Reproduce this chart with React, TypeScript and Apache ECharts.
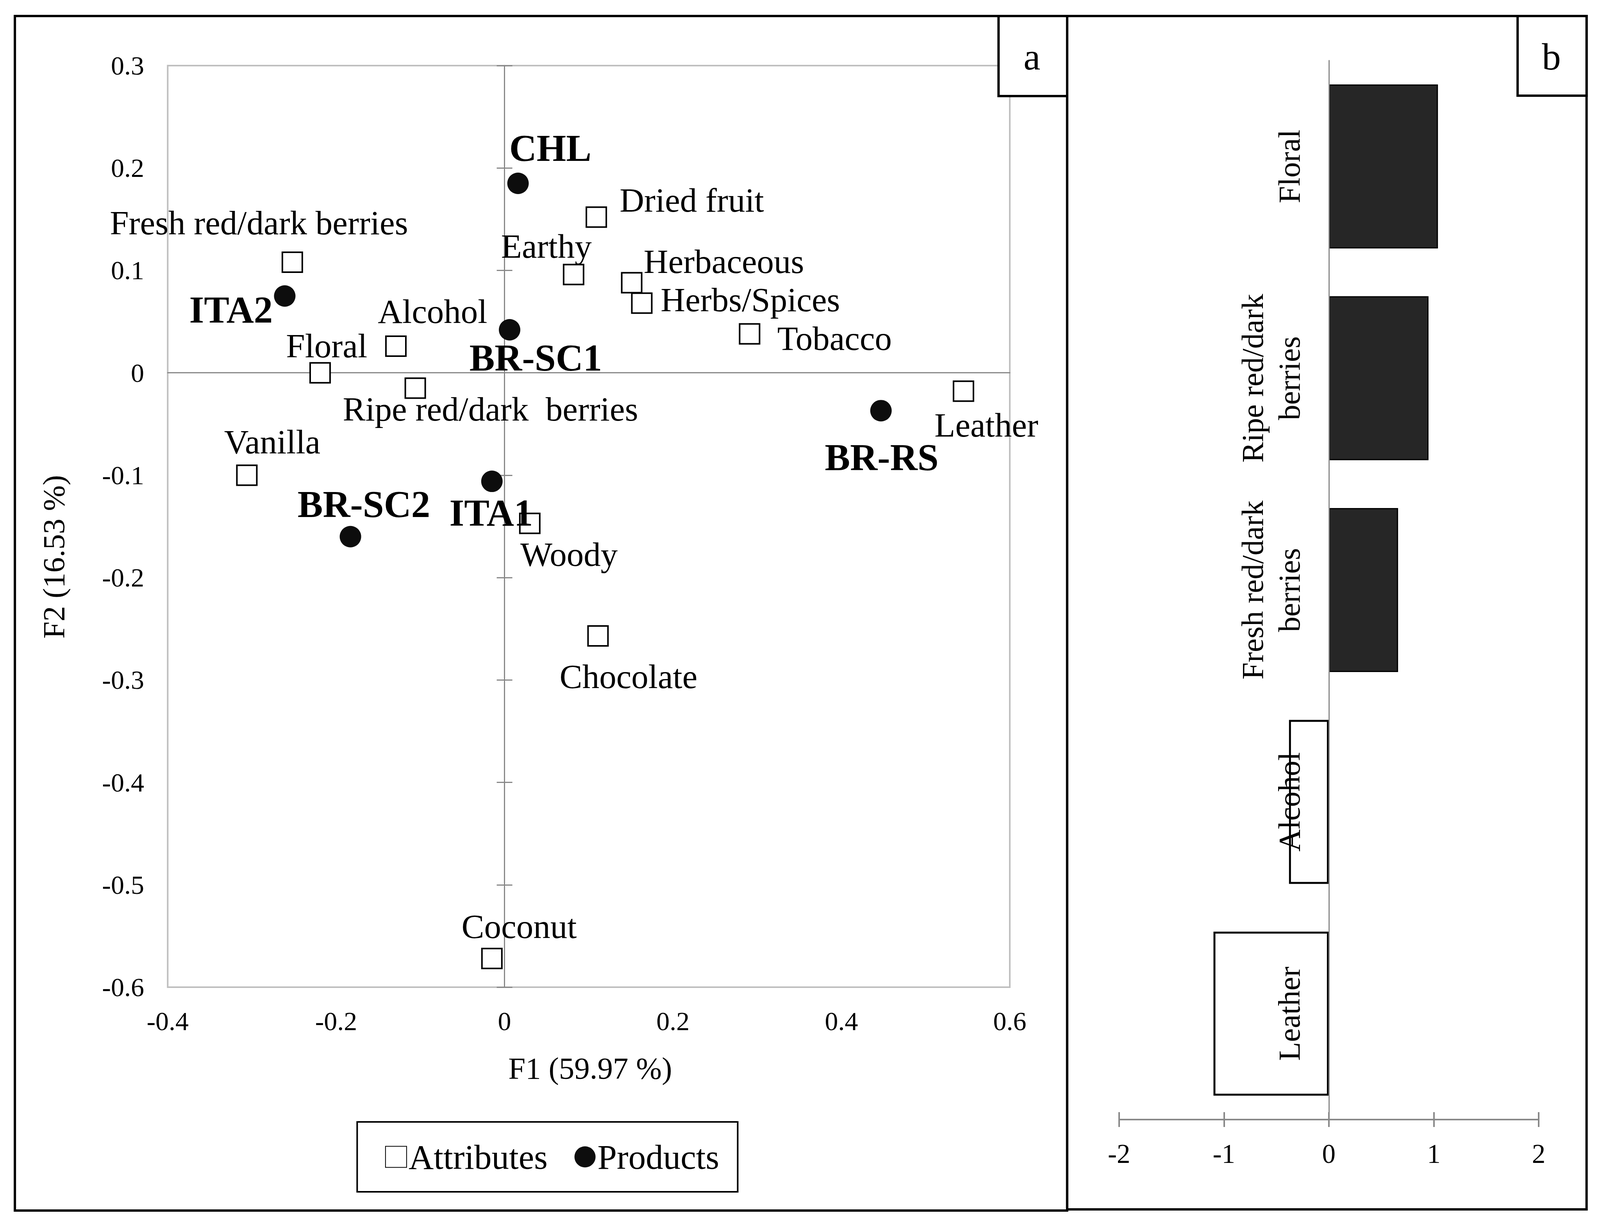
import React, { useEffect, useRef } from "react";
import * as echarts from "echarts";

// ---------- Panel a: PCA biplot ----------
const attributeNames = [
  "Fresh red/dark berries",
  "Floral",
  "Alcohol",
  "Ripe red/dark  berries",
  "Earthy",
  "Dried fruit",
  "Herbaceous",
  "Herbs/Spices",
  "Tobacco",
  "Leather",
  "Vanilla",
  "Woody",
  "Chocolate",
  "Coconut",
];
const attributeF1 = [-0.252, -0.219, -0.129, -0.106, 0.082, 0.109, 0.151, 0.163, 0.291, 0.545, -0.306, 0.03, 0.111, -0.015];
const attributeF2 = [0.108, 0.0, 0.026, -0.015, 0.096, 0.152, 0.088, 0.068, 0.038, -0.018, -0.1, -0.147, -0.257, -0.572];

const productNames = ["CHL", "ITA2", "BR-SC1", "BR-RS", "BR-SC2", "ITA1"];
const productF1 = [0.016, -0.261, 0.006, 0.447, -0.183, -0.015];
const productF2 = [0.185, 0.075, 0.042, -0.037, -0.16, -0.106];

const f1Ticks = [-0.4, -0.2, 0, 0.2, 0.4, 0.6];
const f2Ticks = [-0.6, -0.5, -0.4, -0.3, -0.2, -0.1, 0, 0.1, 0.2, 0.3];

// ---------- Panel b: bar chart ----------
const diffCategories = ["Floral", "Ripe red/dark\nberries", "Fresh red/dark\nberries", "Alcohol", "Leather"];
const diffValues = [1.04, 0.95, 0.66, -0.38, -1.1];
const diffTicks = [-2, -1, 0, 1, 2];

// label placement (pixel offsets from marker centre) — layout only
const attributeLabelOffsets: Record<string, number[]> = {
  "Fresh red/dark berries": [-92, -101],
  Floral: [18, -69],
  Alcohol: [101, -89],
  "Ripe red/dark  berries": [207, 53],
  Earthy: [-75, -72],
  "Dried fruit": [263, -44],
  Herbaceous: [254, -54],
  "Herbs/Spices": [299, -9],
  Tobacco: [234, 11],
  Leather: [63, 87],
  Vanilla: [70, -85],
  Woody: [108, 79],
  Chocolate: [84, 104],
  Coconut: [75, -82],
};
const productLabelOffsets: Record<string, number[]> = {
  CHL: [89, -90],
  ITA2: [-148, 35],
  "BR-SC1": [72, 72],
  "BR-RS": [2, 120],
  "BR-SC2": [37, -83],
  ITA1: [-2, 81],
};

const SERIF = "'Liberation Serif', 'Times New Roman', serif";
const fmt1 = (v: number) => String(Number(v.toFixed(1)));

const PAGE_W = 4096;
const PAGE_H = 3137;

export default function App() {
  const ref = useRef<HTMLDivElement>(null);

  useEffect(() => {
    if (!ref.current) return;
    const chart = echarts.init(ref.current, undefined, { renderer: "svg" });
    const sx = PAGE_W / 4408;
    const X = (v: number) => v * sx;
    const F = (v: number) => Math.round(v * 0.965);

    const attrData = attributeNames.map((n, i) => ({
      name: n,
      value: [attributeF1[i], attributeF2[i]],
      label: { offset: [X(attributeLabelOffsets[n][0]), attributeLabelOffsets[n][1]] },
    }));
    const prodData = productNames.map((n, i) => ({
      name: n,
      value: [productF1[i], productF2[i]],
      label: { offset: [X(productLabelOffsets[n][0]), productLabelOffsets[n][1]] },
    }));
    const barData = diffValues.map((v) => ({
      value: v,
      itemStyle:
        v >= 0
          ? { color: "#262626", borderColor: "#000", borderWidth: 3 }
          : { color: "#ffffff", borderColor: "#000", borderWidth: 5 },
    }));

    const grey = "#888888";
    const gridB = { left: X(3083), top: 155, width: X(1156), height: 2712 };

    const option: any = {
      animation: false,
      backgroundColor: "#ffffff",
      textStyle: { fontFamily: SERIF, color: "#000" },
      grid: [
        { left: X(462), top: 168, width: X(2320), height: 2360, show: true, borderColor: "#bfbfbf", borderWidth: 4, backgroundColor: "transparent" },
        gridB,
      ],
      xAxis: [
        {
          gridIndex: 0, type: "value", min: f1Ticks[0], max: f1Ticks[f1Ticks.length - 1], interval: 0.2,
          position: "bottom", axisLine: { show: false, onZero: false }, axisTick: { show: false }, splitLine: { show: false },
          axisLabel: { fontSize: F(70), fontFamily: SERIF, color: "#000", margin: 53, formatter: fmt1 },
        },
        {
          gridIndex: 0, type: "value", min: f1Ticks[0], max: f1Ticks[f1Ticks.length - 1], interval: 0.2,
          axisLine: { show: true, onZero: true, lineStyle: { color: grey, width: 3 } },
          axisTick: { show: false }, axisLabel: { show: false }, splitLine: { show: false },
        },
        {
          gridIndex: 1, type: "value", min: diffTicks[0], max: diffTicks[diffTicks.length - 1], interval: 1,
          position: "bottom", axisLine: { show: true, onZero: false, lineStyle: { color: grey, width: 4 } },
          axisTick: { show: true, length: 19, lineStyle: { color: grey, width: 4 } }, splitLine: { show: false },
          axisLabel: { fontSize: F(72), fontFamily: SERIF, color: "#000", margin: 53, formatter: (v: number) => String(v) },
        },
        {
          gridIndex: 1, type: "value", min: diffTicks[0], max: diffTicks[diffTicks.length - 1], interval: 1,
          position: "bottom", axisLine: { show: false, onZero: false },
          axisTick: { show: true, inside: true, length: 19, lineStyle: { color: grey, width: 4 } },
          axisLabel: { show: false }, splitLine: { show: false },
        },
      ],
      yAxis: [
        {
          gridIndex: 0, type: "value", min: f2Ticks[0], max: f2Ticks[f2Ticks.length - 1], interval: 0.1,
          position: "left", axisLine: { show: false, onZero: false }, axisTick: { show: false }, splitLine: { show: false },
          axisLabel: { fontSize: F(70), fontFamily: SERIF, color: "#000", margin: X(65), formatter: fmt1 },
        },
        {
          gridIndex: 0, type: "value", min: f2Ticks[0], max: f2Ticks[f2Ticks.length - 1], interval: 0.1,
          axisLine: { show: true, onZero: true, lineStyle: { color: grey, width: 3 } },
          axisTick: { show: true, length: 20, lineStyle: { color: grey, width: 3 } },
          axisLabel: { show: false }, splitLine: { show: false },
        },
        {
          gridIndex: 0, type: "value", min: f2Ticks[0], max: f2Ticks[f2Ticks.length - 1], interval: 0.1,
          axisLine: { show: false, onZero: true },
          axisTick: { show: true, inside: true, length: 20, lineStyle: { color: grey, width: 3 } },
          axisLabel: { show: false }, splitLine: { show: false },
        },
        {
          gridIndex: 1, type: "category", data: diffCategories, inverse: true, z: 10,
          position: "left", offset: -gridB.width / 2,
          axisLine: { show: true, onZero: false, lineStyle: { color: grey, width: 3 } },
          axisTick: { show: false }, splitLine: { show: false },
          axisLabel: { interval: 0, rotate: 90, fontSize: F(82), lineHeight: 94, fontFamily: SERIF, color: "#000", margin: X(58) },
        },
      ],
      legend: {
        left: X(984), top: 2873,
        orient: "horizontal",
        data: ["Attributes", "Products"],
        itemWidth: 54, itemHeight: 54, itemGap: X(74),
        padding: [45, X(51), 45, X(77)],
        borderColor: "#000", borderWidth: 4,
        textStyle: { fontSize: F(92), fontFamily: SERIF, color: "#000" },
      },
      series: [
        {
          name: "Attributes", type: "scatter", xAxisIndex: 0, yAxisIndex: 0,
          symbol: "rect", symbolSize: 51,
          itemStyle: { color: "#ffffff", borderColor: "#000", borderWidth: 4, opacity: 1 },
          label: { show: true, position: "inside", formatter: "{b}", fontSize: F(90), fontFamily: SERIF, color: "#000" },
          data: attrData, z: 3,
        },
        {
          name: "Products", type: "scatter", xAxisIndex: 0, yAxisIndex: 0,
          symbol: "circle", symbolSize: 55,
          itemStyle: { color: "#0d0d0d", opacity: 1 },
          label: { show: true, position: "inside", formatter: "{b}", fontSize: F(100), fontWeight: "bold", fontFamily: SERIF, color: "#000" },
          data: prodData, z: 4,
        },
        {
          name: "Difference", type: "bar", xAxisIndex: 2, yAxisIndex: 3,
          barWidth: 420, data: barData, z: 2,
        },
      ],
      graphic: [
        { type: "rect", shape: { x: X(41), y: 41, width: X(2899), height: 3059 }, style: { fill: "none", stroke: "#000", lineWidth: 6 }, z: 100 },
        { type: "rect", shape: { x: X(2940), y: 41, width: X(1431), height: 3056 }, style: { fill: "none", stroke: "#000", lineWidth: 6 }, z: 100 },
        { type: "rect", shape: { x: X(2751), y: 41, width: X(189), height: 205 }, style: { fill: "#fff", stroke: "#000", lineWidth: 6 }, z: 101 },
        { type: "rect", shape: { x: X(4181), y: 41, width: X(190), height: 204 }, style: { fill: "#fff", stroke: "#000", lineWidth: 6 }, z: 101 },
        { type: "text", x: X(2843), y: 145, z: 102, style: { text: "a", fontSize: F(100), fontFamily: SERIF, fill: "#000", align: "center", verticalAlign: "middle" } },
        { type: "text", x: X(4274), y: 145, z: 102, style: { text: "b", fontSize: F(100), fontFamily: SERIF, fill: "#000", align: "center", verticalAlign: "middle" } },
        { type: "text", x: X(1626), y: 2735, z: 102, style: { text: "F1 (59.97 %)", fontSize: F(82), fontFamily: SERIF, fill: "#000", align: "center", verticalAlign: "middle" } },
        { type: "text", x: X(148), y: 1426, rotation: Math.PI / 2, z: 102, style: { text: "F2 (16.53 %)", fontSize: F(82), fontFamily: SERIF, fill: "#000", align: "center", verticalAlign: "middle" } },
      ],
    };

    chart.setOption(option);
    return () => chart.dispose();
  }, []);

  return (
    <div
      ref={ref}
      style={{ position: "absolute", left: 0, top: 0, width: PAGE_W, height: PAGE_H, background: "#fff" }}
    />
  );
}
